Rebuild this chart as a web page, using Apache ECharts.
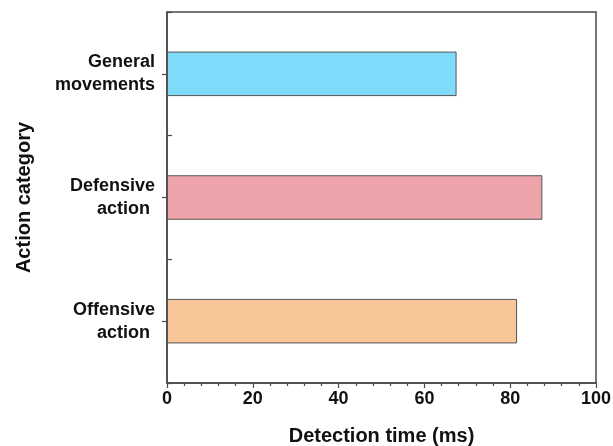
<!DOCTYPE html>
<html><head><meta charset="utf-8">
<script src="https://cdn.jsdelivr.net/npm/echarts@6/dist/echarts.min.js"></script>
<style>html,body{margin:0;padding:0;background:#fff}#c{width:613px;height:446px}</style>
</head><body><div id="c"></div>
<script>
const categories = ['Offensive\naction ', 'Defensive\naction ', 'General\nmovements'];
const detectionTime = [81.6, 87.5, 67.5];
const xTicks = [0, 20, 40, 60, 80, 100];
const barColors = ['#f8c799', '#eea3aa', '#80dbfa'];
const font = '"Liberation Sans", Arial, sans-serif';
const axisCol = '#4a4a4a';
const chart = echarts.init(document.getElementById('c'), null, {renderer: 'canvas'});
chart.setOption({
  animation: false,
  grid: {left: 167, right: 17, top: 12, bottom: 63, containLabel: false, outerBoundsMode: 'none',
         show: true, borderColor: axisCol, borderWidth: 1.5},
  xAxis: {
    type: 'value', min: xTicks[0], max: xTicks[xTicks.length - 1], interval: 20,
    name: 'Detection time (ms)', nameLocation: 'middle', nameGap: 43,
    nameTextStyle: {fontFamily: font, fontWeight: 'bold', fontSize: 20, color: '#111'},
    axisLine: {show: true, lineStyle: {color: axisCol, width: 1.5}},
    axisTick: {show: true, length: 5, lineStyle: {color: axisCol, width: 1.2}},
    minorTick: {show: true, splitNumber: 5, length: 3, lineStyle: {color: axisCol, width: 1.2}},
    splitLine: {show: false},
    axisLabel: {fontFamily: font, fontWeight: 'bold', fontSize: 18, color: '#111', margin: 7}
  },
  yAxis: [{
    type: 'category', data: categories,
    name: 'Action category', nameLocation: 'middle', nameGap: 133, nameRotate: 90,
    nameTextStyle: {fontFamily: font, fontWeight: 'bold', fontSize: 20, color: '#111'},
    axisLine: {show: true, lineStyle: {color: axisCol, width: 1.5}},
    axisTick: {show: true, alignWithLabel: true, length: 5, lineStyle: {color: axisCol, width: 1.2}},
    axisLabel: {fontFamily: font, fontWeight: 'bold', fontSize: 18, color: '#111', margin: 12, lineHeight: 23, align: 'right'}
  }, {
    type: 'category', data: categories, position: 'left',
    axisLine: {show: false},
    axisTick: {show: true, inside: true, length: 5, lineStyle: {color: axisCol, width: 1.2}},
    axisLabel: {show: false}
  }],
  series: [{
    type: 'bar', yAxisIndex: 0, barCategoryGap: '64%',
    data: detectionTime.map((v, i) => ({value: v, itemStyle: {color: barColors[i]}})),
    itemStyle: {borderColor: '#555', borderWidth: 1}
  }]
});
</script></body></html>
